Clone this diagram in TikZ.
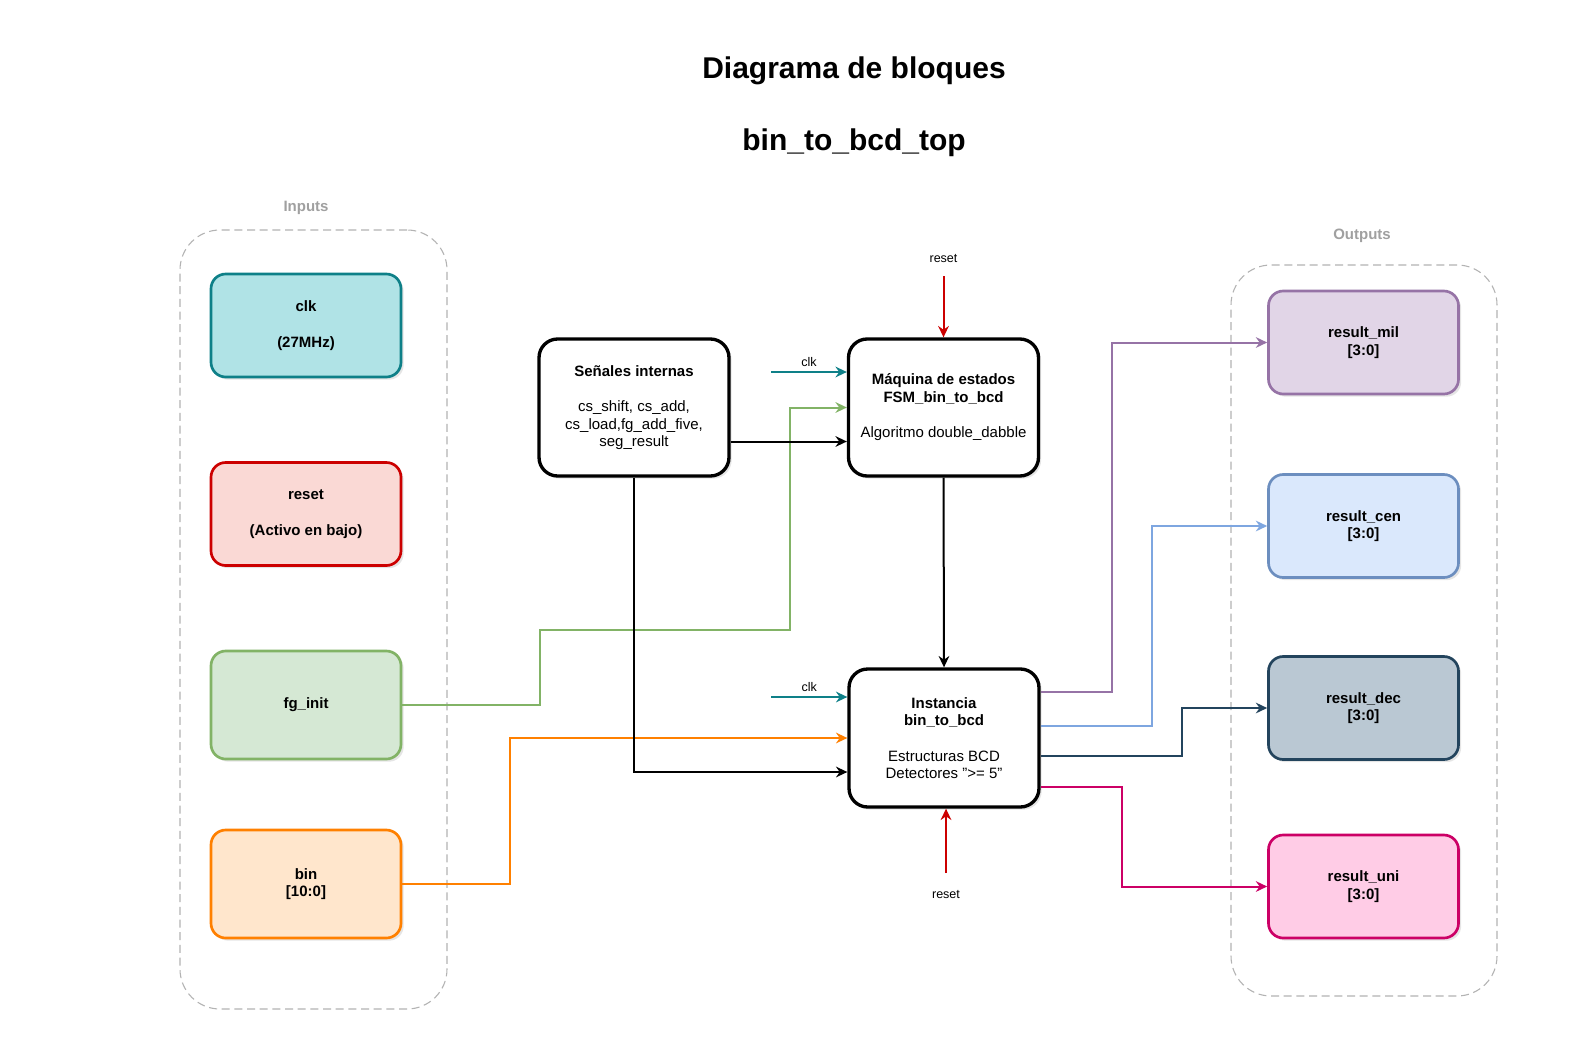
\documentclass[tikz,border=0pt]{standalone}
\usepackage{fontspec}
\setmainfont{Liberation Sans}
\usetikzlibrary{calc,arrows.meta,positioning,shadows}
\definecolor{clkfill}{HTML}{B0E3E6}
\definecolor{clkline}{HTML}{0E8088}
\definecolor{rstfill}{HTML}{FAD9D5}
\definecolor{rstline}{HTML}{CC0000}
\definecolor{fgfill}{HTML}{D5E8D4}
\definecolor{fgline}{HTML}{82B366}
\definecolor{binfill}{HTML}{FFE6CC}
\definecolor{binline}{HTML}{FF8000}
\definecolor{milfill}{HTML}{E1D5E7}
\definecolor{milline}{HTML}{9673A6}
\definecolor{cenfill}{HTML}{DAE8FC}
\definecolor{cenline}{HTML}{6C8EBF}
\definecolor{cenwire}{HTML}{7EA6E0}
\definecolor{decfill}{HTML}{BAC8D3}
\definecolor{decline}{HTML}{23445D}
\definecolor{unifill}{HTML}{FFCCE6}
\definecolor{uniline}{HTML}{CC0066}
\definecolor{groupline}{HTML}{B3B3B3}
\definecolor{grouptext}{HTML}{A0A0A0}
\newcommand{\diagboxfont}{\fontsize{11.25}{13.2}\selectfont}
\newcommand{\diagtitlefont}{\fontsize{22.5}{27}\selectfont}
\newcommand{\diagwirefont}{\fontsize{9.4}{11}\selectfont}
\tikzset{
  iobox/.style={draw, line width=2pt, rounded corners=11pt, align=center,
    minimum width=142.5pt, minimum height=77.25pt, inner sep=2pt,
    font=\diagboxfont\bfseries,
    drop shadow={shadow xshift=2pt, shadow yshift=-2pt, opacity=0.2}},
  coreblock/.style={iobox, draw=black, fill=white, line width=2.5pt,
    rounded corners=14pt, minimum height=102.75pt, font=\diagboxfont},
  groupbox/.style={draw=groupline, dash pattern=on 6pt off 3.5pt, line width=0.8pt,
    rounded corners=30pt},
  grouplabel/.style={text=grouptext, font=\diagboxfont\bfseries},
  wire/.style={line width=1.5pt, -{Stealth[length=8.5pt,width=8pt,inset=2.8pt]}},
  siglabel/.style={text=black, font=\diagwirefont}
}

\begin{document}
\begin{tikzpicture}[x=0.75pt, y=-0.75pt]
  \useasboundingbox[fill=white] (0,0) rectangle (1587,1045);

  \node[font=\diagtitlefont\bfseries] (title) at (854,71) {Diagrama de bloques};
  \node[font=\diagtitlefont\bfseries] (subtitle) at (854,143) {bin\_to\_bcd\_top};

  \node[groupbox, minimum width=200.25pt, minimum height=584.25pt] (ingroup) at (313.5,619.5) {};
  \node[grouplabel] (inlabel) at (306,208) {Inputs};
  \node[groupbox, minimum width=199.5pt, minimum height=548.25pt] (outgroup) at (1364,630.5) {};
  \node[grouplabel] (outlabel) at (1362,236) {Outputs};

  \node[iobox, draw=clkline, fill=clkfill] (clk) at (306,325.5) {clk\\[13.4pt](27MHz)};
  \node[iobox, draw=rstline, fill=rstfill] (rst) at (306,514) {reset\\[13.4pt](Activo en bajo)};
  \node[iobox, draw=fgline, fill=fgfill, minimum height=81pt] (fginit) at (306,705) {fg\_init};
  \node[iobox, draw=binline, fill=binfill, minimum height=81pt] (bin) at (306,884) {bin\\{[10:0]}};

  \node[coreblock] (senales) at (634,407.5) {\textbf{Señales internas}\\[13.4pt]cs\_shift, cs\_add,\\cs\_load,fg\_add\_five,\\seg\_result};
  \node[coreblock] (fsm) at (943.5,407.5) {\textbf{Máquina de estados}\\\textbf{FSM\_bin\_to\_bcd}\\[13.4pt]Algoritmo double\_dabble};
  \node[coreblock, minimum height=103.5pt] (inst) at (944,738) {\textbf{Instancia}\\\textbf{bin\_to\_bcd}\\[13.4pt]Estructuras BCD\\Detectores ">= 5"};

  \node[iobox, draw=milline, fill=milfill] (mil) at (1363.5,342.5) {result\_mil\\{[3:0]}};
  \node[iobox, draw=cenline, fill=cenfill] (cen) at (1363.5,526) {result\_cen\\{[3:0]}};
  \node[iobox, draw=decline, fill=decfill] (dec) at (1363.5,708) {result\_dec\\{[3:0]}};
  \node[iobox, draw=uniline, fill=unifill] (uni) at (1363.5,886.5) {result\_uni\\{[3:0]}};

  \coordinate (clkfsm) at (771,372);
  \coordinate (clkinst) at (771,697);
  \coordinate (rstfsm) at (943.5,276);
  \coordinate (rstinst) at (946,873);

  \draw[wire, clkline] (clkfsm) -- (clkfsm -| fsm.west) node[midway, above, siglabel] {clk};
  \draw[wire, clkline] (clkinst) -- (clkinst -| inst.west) node[midway, above, siglabel] {clk};
  \draw[wire, rstline] (rstfsm) node[above=6pt, siglabel] {reset} -- (fsm.north);
  \draw[wire, rstline] (rstinst) node[below=9pt, siglabel] {reset} -- (rstinst |- inst.south);

  \draw[wire, fgline] (fginit.east) -- ++(138,0) -- ++(0,-75) -- ++(250,0) |- (fsm.west);
  \draw[wire, binline] (bin.east) -- ++(108,0) |- (inst.west);
  \draw[wire] ($(senales.east)+(0,34)$) -- ($(fsm.west)+(0,34)$);
  \draw[wire] (senales.south) |- ($(inst.west)+(0,34)$);
  \draw[wire] (fsm.south) -- (inst.north);

  \draw[wire, milline] ($(inst.east)+(0,-46)$) -- ++(71,0) |- (mil.west);
  \draw[wire, cenwire] ($(inst.east)+(0,-12)$) -- ++(111,0) |- (cen.west);
  \draw[wire, decline] ($(inst.east)+(0,18)$) -- ++(141,0) |- (dec.west);
  \draw[wire, uniline] ($(inst.east)+(0,49)$) -- ++(81,0) |- (uni.west);
\end{tikzpicture}
\end{document}
